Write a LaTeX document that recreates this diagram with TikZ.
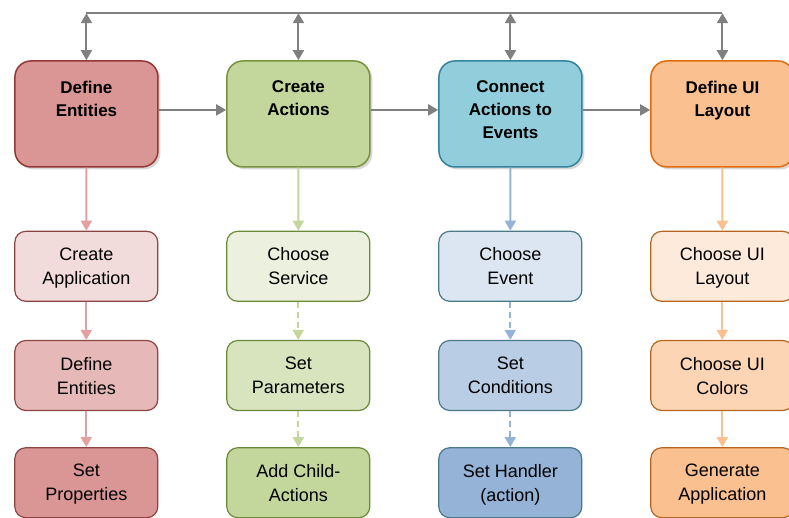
\documentclass[tikz,border=0pt]{standalone}
\usepackage{fontspec}
\setmainfont{Liberation Sans}
\usetikzlibrary{arrows.meta,shadows}

\definecolor{linkGray}{HTML}{808080}
\definecolor{redTop}{HTML}{D99694}   \definecolor{redTopLine}{HTML}{953735}
\definecolor{greenTop}{HTML}{C3D69B} \definecolor{greenTopLine}{HTML}{77933C}
\definecolor{blueTop}{HTML}{92CDDC}  \definecolor{blueTopLine}{HTML}{31849B}
\definecolor{orangeTop}{HTML}{FAC090}\definecolor{orangeTopLine}{HTML}{E46C0A}
\definecolor{redA}{HTML}{F2DCDB}    \definecolor{redB}{HTML}{E6B9B8}    \definecolor{redC}{HTML}{D99694}
\definecolor{greenA}{HTML}{EBF1DE}  \definecolor{greenB}{HTML}{D7E4BD}  \definecolor{greenC}{HTML}{C3D69B}
\definecolor{blueA}{HTML}{DCE6F2}   \definecolor{blueB}{HTML}{B9CDE5}   \definecolor{blueC}{HTML}{95B3D7}
\definecolor{orangeA}{HTML}{FDEADA} \definecolor{orangeB}{HTML}{FCD5B5} \definecolor{orangeC}{HTML}{FAC090}
\definecolor{redLine}{HTML}{8C4545}
\definecolor{greenLine}{HTML}{6A8A3A}
\definecolor{blueLine}{HTML}{4A7A88}
\definecolor{orangeLine}{HTML}{B5651D}
\definecolor{redArrow}{HTML}{E3A0A0}

\begin{document}
\begin{tikzpicture}[x=1pt,y=-1pt,
  every matrix/.style={ampersand replacement=\&,column sep=67.5pt,inner sep=0pt},
  stagebox/.style={rounded corners=16pt, draw, line width=1.5pt, inner sep=4pt,
    minimum width=143pt, minimum height=106pt,
    font=\fontsize{17}{23}\selectfont\bfseries,
    drop shadow={shadow xshift=2.5pt,shadow yshift=-2.5pt,fill=black!30}},
  stepbox/.style={rounded corners=11pt, draw, line width=1.2pt, inner sep=4pt,
    minimum width=143pt, minimum height=70pt, text depth=0pt,
    font=\fontsize{18}{24}\selectfont},
  flow/.style={-{Triangle[width=11pt,length=10pt]}, line width=2pt},
  link/.style={flow, draw=linkGray, fill=linkGray},
  both/.style={link, {Triangle[width=11pt,length=10pt]}-{Triangle[width=11pt,length=10pt]}},
  fail/.style={flow, dash pattern=on 6pt off 4pt},
  every node/.style={align=center}]

\useasboundingbox (0,0) rectangle (789,518);

% Position the nodes using a matrix layout
\matrix (m) [anchor=north west] at (14,60) {
    \node[stagebox, fill=redTop, draw=redTopLine] (defineEntities) {Define\\Entities\\~\\[-15pt]\mbox{}};
    \& \node[stagebox, fill=greenTop, draw=greenTopLine] (createActions) {Create\\Actions\\~\\[-15pt]\mbox{}};
    \& \node[stagebox, fill=blueTop, draw=blueTopLine] (connectActions) {Connect\\Actions to\\Events\\[-15pt]\mbox{}};
    \& \node[stagebox, fill=orangeTop, draw=orangeTopLine] (defineLayout) {Define UI\\Layout\\~\\[-15pt]\mbox{}};
    \\[63pt]
    \node[stepbox, fill=redA, draw=redLine] (createApp) {Create\\Application};
    \& \node[stepbox, fill=greenA, draw=greenLine] (chooseService) {Choose\\Service};
    \& \node[stepbox, fill=blueA, draw=blueLine] (chooseEvent) {Choose\\Event};
    \& \node[stepbox, fill=orangeA, draw=orangeLine] (chooseLayout) {Choose UI\\Layout};
    \\[38pt]
    \node[stepbox, fill=redB, draw=redLine] (defineEnt) {Define\\Entities};
    \& \node[stepbox, fill=greenB, draw=greenLine] (setParams) {Set\\Parameters};
    \& \node[stepbox, fill=blueB, draw=blueLine] (setConditions) {Set\\Conditions};
    \& \node[stepbox, fill=orangeB, draw=orangeLine] (chooseColors) {Choose UI\\Colors};
    \\[36pt]
    \node[stepbox, fill=redC, draw=redLine] (setProps) {Set\\Properties};
    \& \node[stepbox, fill=greenC, draw=greenLine] (addChild) {Add Child-\\Actions};
    \& \node[stepbox, fill=blueC, draw=blueLine] (setHandler) {Set Handler\\(action)};
    \& \node[stepbox, fill=orangeC, draw=orangeLine] (generateApp) {Generate\\Application};
    \\
  };

% Shared link above the main stages
\coordinate (busA) at ([yshift=47pt]defineEntities.north);
\coordinate (busB) at ([yshift=47pt]createActions.north);
\coordinate (busC) at ([yshift=47pt]connectActions.north);
\coordinate (busD) at ([yshift=47pt]defineLayout.north);
\draw [linkGray, line width=2pt] (busA) -- (busD);
\draw [both] (busA) -- (defineEntities);
\draw [both] (busB) -- (createActions);
\draw [both] (busC) -- (connectActions);
\draw [both] (busD) -- (defineLayout);

% Draw the arrows between the main stages
\draw [link] ([yshift=4pt]defineEntities.east) -- ([yshift=4pt]createActions.west);
\draw [link] ([yshift=4pt]createActions.east) -- ([yshift=4pt]connectActions.west);
\draw [link] ([yshift=4pt]connectActions.east) -- ([yshift=4pt]defineLayout.west);

% Steps of each stage
\draw [flow, redArrow] (defineEntities) -- (createApp);
\draw [flow, redArrow] (createApp) -- (defineEnt);
\draw [flow, redArrow] (defineEnt) -- (setProps);
\draw [flow, greenC] (createActions) -- (chooseService);
\draw [fail, greenC] (chooseService) -- (setParams);
\draw [fail, greenC] (setParams) -- (addChild);
\draw [flow, blueC] (connectActions) -- (chooseEvent);
\draw [fail, blueC] (chooseEvent) -- (setConditions);
\draw [fail, blueC] (setConditions) -- (setHandler);
\draw [flow, orangeC] (defineLayout) -- (chooseLayout);
\draw [flow, orangeC] (chooseLayout) -- (chooseColors);
\draw [flow, orangeC] (chooseColors) -- (generateApp);

\end{tikzpicture}
\end{document}
